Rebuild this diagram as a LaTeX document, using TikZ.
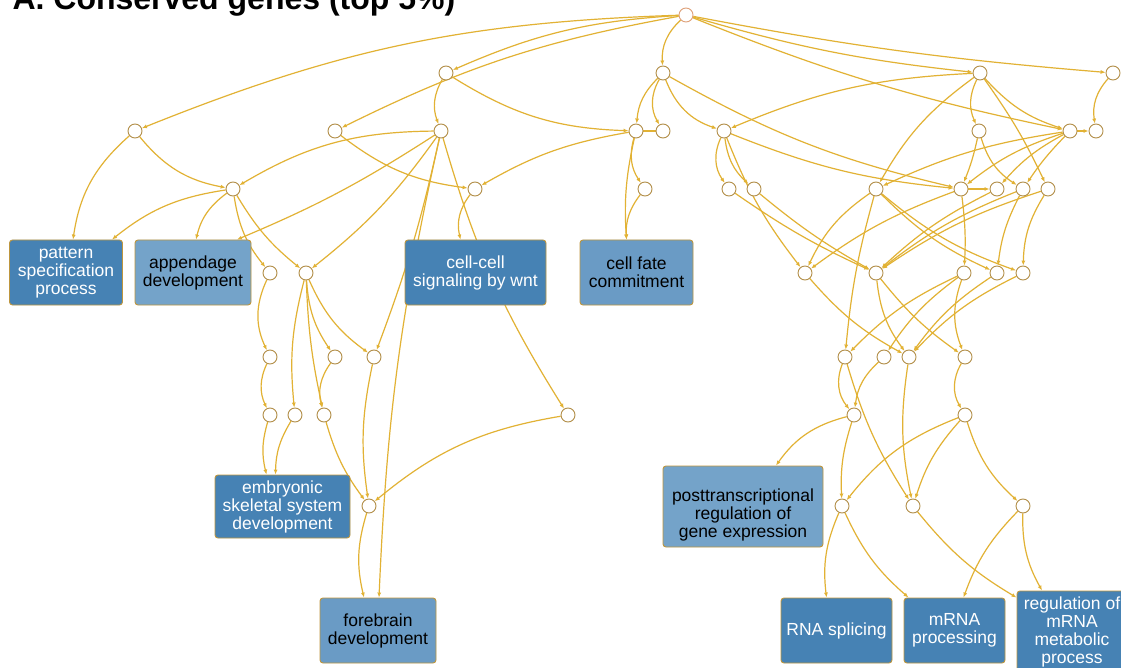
\documentclass[tikz,border=0pt]{standalone}
\usepackage{fontspec}
\setmainfont{Liberation Sans}
\usetikzlibrary{arrows.meta}
\usetikzlibrary{backgrounds}
\definecolor{linkcol}{RGB}{226,178,52}
\definecolor{ringcol}{RGB}{178,142,72}
\definecolor{rootcol}{RGB}{222,160,120}
\definecolor{darkblue}{RGB}{70,130,180}
\definecolor{paleblue}{RGB}{116,163,201}
\definecolor{midblue}{RGB}{106,155,197}
\definecolor{boxline}{RGB}{190,150,62}
\tikzset{>={Latex[length=5pt,width=4pt]}, x=1pt, y=-1pt,
  goterm/.style={circle,draw=ringcol,fill=white,line width=0.9pt,minimum size=14pt,inner sep=0pt},
  gobox/.style={rectangle,rounded corners=3pt,draw=boxline,line width=0.9pt,align=center,inner sep=0pt,font=\fontsize{17.5}{18}\selectfont},
  darkbox/.style={gobox,fill=darkblue,text=white},
  palebox/.style={gobox,fill=paleblue,text=black},
  midbox/.style={gobox,fill=midblue,text=black},
  link/.style={->,draw=linkcol,line width=1.2pt}}

\begin{document}
\begin{tikzpicture}
\useasboundingbox (0,0) rectangle (1121,668);
\node (title) at (9,10) [anchor=base west,font=\bfseries\fontsize{32}{32}\selectfont] {A. Conserved genes (top 5\%)};
%% GO terms
\node (R) at (686,15) [goterm,draw=rootcol] {};
\node (A1) at (446,73) [goterm] {};
\node (A2) at (663,73) [goterm] {};
\node (A3) at (980,73) [goterm] {};
\node (A4) at (1113,73) [goterm] {};
\node (B1) at (135,131) [goterm] {};
\node (B2) at (335,131) [goterm] {};
\node (B3) at (441,131) [goterm] {};
\node (B4) at (636,131) [goterm] {};
\node (B5) at (663,131) [goterm] {};
\node (B6) at (724,131) [goterm] {};
\node (B7) at (979,131) [goterm] {};
\node (B8) at (1070,131) [goterm] {};
\node (B9) at (1096,131) [goterm] {};
\node (C1) at (233,189) [goterm] {};
\node (C2) at (475,189) [goterm] {};
\node (C3) at (645,189) [goterm] {};
\node (C4) at (729,189) [goterm] {};
\node (C5) at (754,189) [goterm] {};
\node (C6) at (876,189) [goterm] {};
\node (C7) at (961,189) [goterm] {};
\node (C8) at (997,189) [goterm] {};
\node (C9) at (1023,189) [goterm] {};
\node (C10) at (1048,189) [goterm] {};
\node (D1) at (270,273) [goterm] {};
\node (D2) at (306,273) [goterm] {};
\node (D3) at (805,273) [goterm] {};
\node (D4) at (876,273) [goterm] {};
\node (D5) at (964,273) [goterm] {};
\node (D6) at (997,273) [goterm] {};
\node (D7) at (1023,273) [goterm] {};
\node (E1) at (270,357) [goterm] {};
\node (E2) at (335,357) [goterm] {};
\node (E3) at (374,357) [goterm] {};
\node (E4) at (845,357) [goterm] {};
\node (E5) at (884,357) [goterm] {};
\node (E6) at (909,357) [goterm] {};
\node (E7) at (965,357) [goterm] {};
\node (F1) at (270,415) [goterm] {};
\node (F2) at (295,415) [goterm] {};
\node (F3) at (324,415) [goterm] {};
\node (F4) at (568,415) [goterm] {};
\node (F5) at (854,415) [goterm] {};
\node (F6) at (965,415) [goterm] {};
\node (G1) at (369,506) [goterm] {};
\node (G2) at (842,506) [goterm] {};
\node (G3) at (913,506) [goterm] {};
\node (G4) at (1023,506) [goterm] {};
%% labelled terms
\node (pattern) at (66,272.5) [darkbox,minimum width=113pt,minimum height=65pt] {pattern\\specification\\process};
\node (append) at (193,272.5) [palebox,minimum width=116pt,minimum height=65pt] {appendage\\development};
\node (wnt) at (475.5,272.5) [darkbox,minimum width=141pt,minimum height=65pt] {cell-cell\\signaling by wnt};
\node (fate) at (636.5,272.5) [midbox,minimum width=113pt,minimum height=65pt] {cell fate\\commitment};
\node (skeletal) at (282.5,506.5) [darkbox,minimum width=135pt,minimum height=63pt] {embryonic\\skeletal system\\development};
\node (forebrain) at (378,630.5) [midbox,minimum width=116pt,minimum height=65pt] {forebrain\\development};
\node (posttr) at (743,506.5) [palebox,minimum width=160pt,minimum height=81pt,
  label={[font=\fontsize{17.5}{18}\selectfont,align=center,yshift=-8.5pt]center:posttranscriptional\\regulation of\\gene expression}] {};
\node (splicing) at (836.5,630.5) [darkbox,minimum width=111pt,minimum height=65pt] {RNA splicing};
\node (mrnaproc) at (954.5,630.5) [darkbox,minimum width=101pt,minimum height=65pt] {mRNA\\processing};
\node (mrnameta) at (1072,632) [darkbox,minimum width=110pt,minimum height=82pt] {regulation of\\mRNA\\metabolic\\process};
%
\begin{scope}[on background layer]
\fill[white] (0,0) rectangle (1121,668);
% from the root
\draw[link] (R) to[bend right=10] (B1);
\draw[link] (R) to[bend right=10] (A1);
\draw[link] (R) to[bend right=8] (B2);
\draw[link] (R) to[bend right=25] (A2);
\draw[link] (R) to[bend right=5] (A3);
\draw[link] (R) to[bend right=5] (B8);
\draw[link] (R) to[bend right=3] (A4);
% left branch
\draw[link] (A1) to[bend right=25] (B3);
\draw[link] (A1) to[bend right=15] (B4);
\draw[link] (B1) to[bend right=20] ([xshift=7pt]pattern.north);
\draw[link] (B1) to[bend right=20] (C1);
\draw[link] (B2) to[bend right=15] (C2);
\draw[link] (B3) to[bend right=15] (C1);
\draw[link] (B3) to[bend left=5] ([xshift=44pt]append.north);
\draw[link] (B3) to[bend left=8] (D2);
\draw[link] (B3) to[bend left=4] (E3);
\draw[link] (B3) to[bend right=5] ([xshift=1pt]forebrain.north);
\draw[link] (B3) to[bend right=8] (F4);
\draw[link] (C1) to[bend right=15] ([xshift=46pt]pattern.north);
\draw[link] (C1) to[bend right=20] ([xshift=3pt]append.north);
\draw[link] (C1) to[bend right=15] (D1);
\draw[link] (C1) to[bend right=10] (D2);
\draw[link] (C2) to[bend right=25] ([xshift=-15pt]wnt.north);
\draw[link] (D1) to[bend right=25] (E1);
\draw[link] (E1) to[bend right=25] (F1);
\draw[link] (F1) to[bend right=15] ([xshift=-16pt]skeletal.north);
\draw[link] (F2) to[bend right=15] ([xshift=-7pt]skeletal.north);
\draw[link] (D2) to[bend right=10] (F2);
\draw[link] (D2) to[bend right=5] (F3);
\draw[link] (D2) to[bend right=15] (E2);
\draw[link] (D2) to[bend right=15] (E3);
\draw[link] (E2) to[bend right=25] (F3);
\draw[link] (F3) to[bend right=10] (G1);
\draw[link] (E3) to[bend right=10] (G1);
\draw[link] (F4) to[bend right=15] (G1);
\draw[link] (G1) to[bend right=15] ([xshift=-14pt]forebrain.north);
% middle branch
\draw[link] (A2) to[bend right=20] (B4);
\draw[link] (A2) to[bend right=30] (B5);
\draw[link] (A2) to[bend right=25] (B6);
\draw[link] (A2) to[bend right=8] (C7);
\draw[linkcol,line width=1.2pt] (B5) -- (B4);
\draw[link] (B4) to[bend right=25] (C3);
\draw[link] (B4) to[bend right=8] ([xshift=-10pt]fate.north);
\draw[link] (B4) to[bend right=10] (C2);
\draw[link] (C3) to[bend right=20] ([xshift=-10pt]fate.north);
\draw[link] (B6) to[bend right=30] (C4);
\draw[link] (B6) to[bend right=20] (C5);
\draw[link] (B6) to[bend right=8] (D3);
\draw[link] (B6) to[bend right=8] (C7);
\draw[link] (C4) to[bend right=5] (D4);
\draw[link] (C5) to[bend right=5] (D4);
% right branch
\draw[link] (A3) to[bend right=10] (B6);
\draw[link] (A3) to[bend right=12] (C6);
\draw[link] (A3) to[bend right=25] (B7);
\draw[link] (A3) to[bend right=15] (B8);
\draw[link] (A3) to[bend left=5] (C10);
\draw[link] (A4) to[bend right=25] (B9);
\draw[link] (B8) -- (B9);
\draw[link] (B8) to[bend right=8] (C6);
\draw[link] (B8) to[bend right=10] (C7);
\draw[link] (B8) to[bend right=10] (C8);
\draw[link] (B8) to[bend right=5] (C9);
\draw[link] (B7) to[bend left=5] (C7);
\draw[link] (B7) to[bend right=20] (C9);
\draw[link] (C6) to[bend right=15] (D3);
\draw[link] (C6) to[bend right=5] (E4);
\draw[link] (C6) to[bend right=10] (D6);
\draw[link] (C6) to[bend right=10] (D7);
\draw[link] (C7) -- (C8);
\draw[link] (C7) to[bend right=8] (D3);
\draw[link] (C7) to[bend left=5] (D5);
\draw[link] (C8) to[bend right=8] (D4);
\draw[link] (C9) to[bend right=8] (D4);
\draw[link] (C9) to[bend right=10] (D6);
\draw[link] (C10) to[bend right=8] (D4);
\draw[link] (C10) to[bend right=15] (D7);
\draw[link] (D3) to[bend right=10] (E6);
\draw[link] (D4) to[bend right=15] (E6);
\draw[link] (D4) to[bend right=8] (E7);
\draw[link] (D5) to[bend right=10] (E4);
\draw[link] (D5) to[bend right=10] (E5);
\draw[link] (D5) to[bend right=20] (E7);
\draw[link] (D6) to[bend right=10] (E6);
\draw[link] (D7) to[bend right=10] (E6);
\draw[link] (E4) to[bend right=30] (F5);
\draw[link] (E4) to[bend right=8] (G3);
\draw[link] (E5) to[bend right=20] (F5);
\draw[link] (E6) to[bend right=10] (G3);
\draw[link] (E7) to[bend right=30] (F6);
\draw[link] (F5) to[bend right=20] ([xshift=33pt]posttr.north);
\draw[link] (F5) to[bend right=10] (G2);
\draw[link] (F6) to[bend right=15] (G2);
\draw[link] (F6) to[bend right=12] (G3);
\draw[link] (F6) to[bend right=15] (G4);
\draw[link] (G2) to[bend right=15] ([xshift=-10pt]splicing.north);
\draw[link] (G2) to[bend right=12] ([xshift=-46pt]mrnaproc.north);
\draw[link] (G3) to[bend right=10] ([yshift=-7pt]mrnameta.north west);
\draw[link] (G4) to[bend right=12] ([xshift=9pt]mrnaproc.north);
\draw[link] (G4) to[bend right=15] ([xshift=-30pt]mrnameta.north);
\end{scope}
%
\end{tikzpicture}
\end{document}
